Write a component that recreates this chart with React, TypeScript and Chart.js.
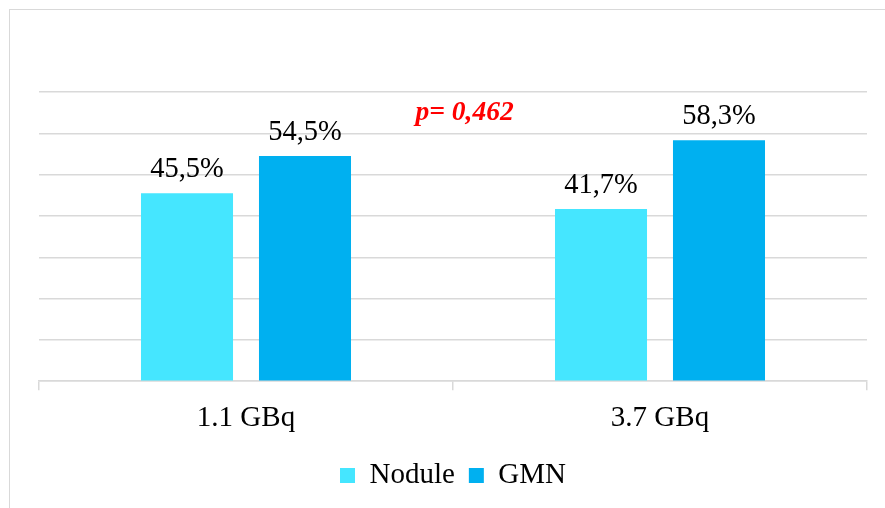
import React, { useEffect, useRef } from "react";
import { Chart, registerables } from "chart.js";

Chart.register(...registerables);

const categories = ["1.1 GBq", "3.7 GBq"];
const noduleValues = [45.5, 41.7];
const gmnValues = [54.5, 58.3];
const seriesNames = ["Nodule", "GMN"];
const pValueLabel = "p= 0,462";
const yMax = 70;
const yStep = 10;

const SERIF = "'Liberation Serif', 'Times New Roman', serif";

const formatPct = (v: number) => v.toFixed(1).replace(".", ",") + "%";

const valueLabels = {
  id: "valueLabels",
  afterDatasetsDraw(chart: any) {
    const { ctx } = chart;
    ctx.save();
    ctx.font = `28.5px ${SERIF}`;
    ctx.fillStyle = "#000000";
    ctx.textAlign = "center";
    ctx.textBaseline = "alphabetic";
    chart.data.datasets.forEach((ds: any, i: number) => {
      const meta = chart.getDatasetMeta(i);
      meta.data.forEach((bar: any, j: number) => {
        ctx.fillText(formatPct(ds.data[j]), bar.x, bar.y - 16);
      });
    });
    // significance note between the two groups
    const xs = chart.scales.x;
    const ys = chart.scales.y;
    ctx.font = `italic bold 27.5px ${SERIF}`;
    ctx.fillStyle = "#FF0000";
    ctx.textBaseline = "middle";
    ctx.fillText(pValueLabel, xs.getPixelForValue(0.528), ys.getPixelForValue(65));
    ctx.restore();
  },
};

export default function App() {
  const ref = useRef<HTMLCanvasElement>(null);

  useEffect(() => {
    if (!ref.current) return;
    const chart = new Chart(ref.current, {
      type: "bar",
      data: {
        labels: categories,
        datasets: [
          {
            label: seriesNames[0],
            data: noduleValues,
            backgroundColor: "#45E6FF",
            borderWidth: 0,
            categoryPercentage: 0.57,
            barPercentage: 0.78,
          },
          {
            label: seriesNames[1],
            data: gmnValues,
            backgroundColor: "#00B0F0",
            borderWidth: 0,
            categoryPercentage: 0.57,
            barPercentage: 0.78,
          },
        ],
      },
      options: {
        responsive: false,
        animation: false,
        devicePixelRatio: 1,
        layout: { padding: { left: 39, right: 18, top: 92, bottom: 8 } },
        plugins: {
          tooltip: { enabled: false },
          legend: {
            position: "bottom",
            labels: {
              font: { family: SERIF, size: 29 },
              color: "#000000",
              boxWidth: 15,
              boxHeight: 15,
              padding: 14,
            },
          },
        },
        scales: {
          x: {
            grid: {
              drawOnChartArea: false,
              drawTicks: true,
              tickLength: 9,
              color: "#d9d9d9",
              lineWidth: 1.5,
              offset: true,
            },
            border: { display: true, color: "#d9d9d9", width: 1.5 },
            ticks: {
              font: { family: SERIF, size: 29 },
              color: "#000000",
              padding: 11,
            },
          },
          y: {
            min: 0,
            max: yMax,
            ticks: { display: false, stepSize: yStep },
            grid: { color: "#d9d9d9", lineWidth: 1.5, drawTicks: false },
            border: { display: false },
          },
        },
      },
      plugins: [valueLabels],
    });
    return () => chart.destroy();
  }, []);

  return (
    <div style={{ position: "absolute", left: 0, top: 0, width: 885, height: 508, overflow: "hidden", background: "#fff" }}>
      <div
        style={{
          position: "absolute",
          left: 9,
          top: 9,
          width: 900,
          height: 520,
          border: "1.5px solid #d9d9d9",
          boxSizing: "border-box",
        }}
      />
      <canvas ref={ref} width={885} height={508} style={{ position: "absolute", left: 0, top: 0, width: 885, height: 508 }} />
    </div>
  );
}
